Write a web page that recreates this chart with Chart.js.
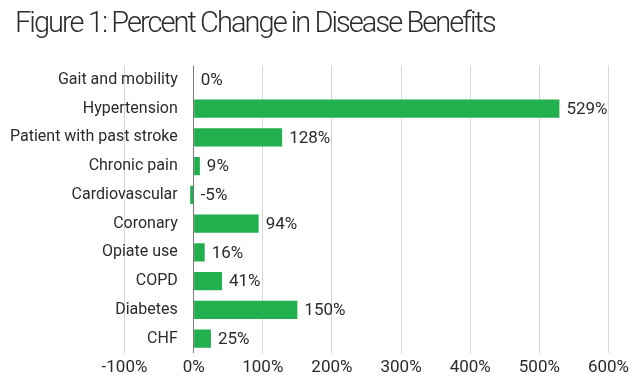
<!DOCTYPE html>
<html>
<head>
<meta charset="utf-8">
<script src="https://cdn.jsdelivr.net/npm/chart.js@4/dist/chart.umd.min.js"></script>
<style>
html,body{margin:0;padding:0;background:#fff;}
#wrap{position:relative;width:640px;height:381px;}
#title{position:absolute;left:15px;top:4px;font-family:Roboto,'Noto Sans',sans-serif;font-weight:300;font-size:29px;letter-spacing:-1.95px;color:#2b2b2b;white-space:nowrap;line-height:36px;}
canvas{position:absolute;left:0;top:0;}
</style>
</head>
<body>
<div id="wrap"><canvas id="c" width="640" height="381"></canvas><div id="title"></div></div>
<script>
const titleText = "Figure 1: Percent Change in Disease Benefits";
const categories = ["Gait and mobility","Hypertension","Patient with past stroke","Chronic pain","Cardiovascular","Coronary","Opiate use","COPD","Diabetes","CHF"];
const values = [0, 529, 128, 9, -5, 94, 16, 41, 150, 25];
const xTicks = [-100, 0, 100, 200, 300, 400, 500, 600];

document.getElementById('title').textContent = titleText;

const FONT = "Roboto, 'Noto Sans', sans-serif";

const valueLabels = {
  id: 'valueLabels',
  afterDatasetsDraw(chart) {
    const ctx = chart.ctx;
    const meta = chart.getDatasetMeta(0);
    const xs = chart.scales.x;
    const zero = xs.getPixelForValue(0);
    ctx.save();
    ctx.font = "17px " + FONT;
    ctx.fillStyle = "#2b2b2b";
    ctx.textAlign = "left";
    ctx.textBaseline = "middle";
    meta.data.forEach((bar, i) => {
      const x = Math.max(bar.x, zero) + 7;
      ctx.fillText(values[i] + "%", x, bar.y + 1);
    });
    ctx.restore();
  }
};

new Chart(document.getElementById('c'), {
  type: 'bar',
  data: {
    labels: categories,
    datasets: [{
      data: values,
      backgroundColor: '#22b04e',
      borderWidth: 0,
      barPercentage: 0.63,
      categoryPercentage: 1.0
    }]
  },
  options: {
    indexAxis: 'y',
    responsive: false,
    animation: false,
    layout: { padding: { top: 65.5, right: 31.5, bottom: 0, left: 124.5 } },
    plugins: {
      legend: { display: false },
      tooltip: { enabled: false },
      title: { display: false }
    },
    scales: {
      x: {
        min: -100, max: 600,
        afterBuildTicks(axis) { axis.ticks = xTicks.map(v => ({ value: v })); },
        afterFit(axis) { axis.height = 28; },
        border: { display: false },
        grid: {
          drawTicks: false,
          color: (c) => (c.tick && c.tick.value === 0) ? '#7a7a7a' : '#d6d6d6',
          lineWidth: 1
        },
        ticks: {
          padding: 5,
          color: '#2b2b2b',
          font: { family: FONT, size: 17 },
          callback: (v) => v + '%'
        }
      },
      y: {
        position: { x: -23 },
        border: { display: false },
        grid: { display: false, drawTicks: false },
        ticks: {
          color: '#2b2b2b',
          font: { family: FONT, size: 16 }
        }
      }
    }
  },
  plugins: [valueLabels]
});
</script>
</body>
</html>
